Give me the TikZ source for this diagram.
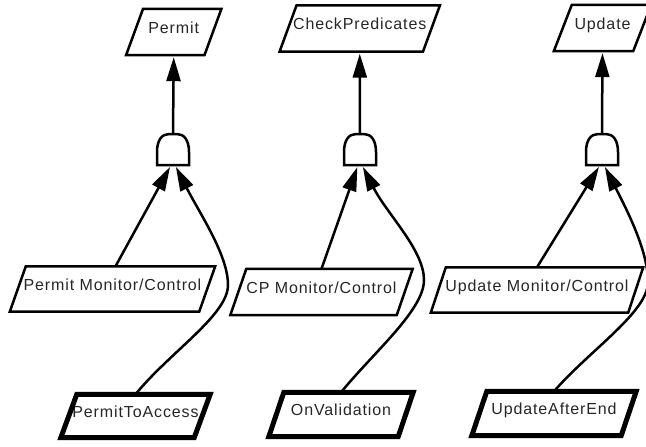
\documentclass[tikz,border=0pt]{standalone}
\usepackage{fontspec}
\setmainfont{Liberation Sans}[LetterSpace=5.5]
\usetikzlibrary{arrows.meta}

\begin{document}
\begin{tikzpicture}[
  x=1pt, y=-1pt,
  slbox/.style 2 args={minimum width=#1, minimum height=#2, inner sep=0pt,
    text height=11.5pt, text depth=9pt, text=black!85,
    font=\fontsize{16}{19}\selectfont},
  gatebox/.style={minimum width=32pt, minimum height=31pt, inner sep=0pt},
  outline/.style={line width=2.5pt, line join=miter},
  heavy/.style={line width=5pt, line join=miter},
  arr/.style={line width=2.5pt, -{Triangle[length=24pt,width=14pt]}, shorten >=2pt},
]
\useasboundingbox (0,0) rectangle (646,447);

% goal nodes
\node[slbox={78}{46}]  (permit) at (173.75,32)  {Permit};
\node[slbox={143}{46}] (cp)     at (359.75,28.5) {CheckPredicates};
\node[slbox={79}{46}]  (upd)    at (602.5,28)   {Update};

% monitor/control nodes
\node[slbox={189}{45}] (pmc)  at (112.5,289) {Permit Monitor/Control};
\node[slbox={166}{46}] (cpmc) at (321.5,292) {CP Monitor/Control};
\node[slbox={197}{45}] (umc)  at (537,290)   {Update Monitor/Control};

% event nodes
\node[slbox={133}{43}] (pta) at (135.5,416)   {PermitToAccess};
\node[slbox={129}{44}] (ov)  at (341,414.5)   {OnValidation};
\node[slbox={149}{44}] (uae) at (554,413.5)   {UpdateAfterEnd};

% and-gates
\node[gatebox] (g1) at (173,149.5) {};
\node[gatebox] (g2) at (360,149.5) {};
\node[gatebox] (g3) at (602,149.5) {};

% parallelogram outlines
\foreach \n/\s in {permit/8.5, cp/8.5, upd/9, pmc/8, cpmc/8, umc/7.5}
  \draw[outline] ([shift={(\s,0)}]\n.north west) -- ([shift={(\s,0)}]\n.north east)
     -- ([shift={(-\s,0)}]\n.south east) -- ([shift={(-\s,0)}]\n.south west) -- cycle;
\foreach \n/\s in {pta/8, ov/7.5, uae/7.5}
  \draw[heavy] ([shift={(\s,0)}]\n.north west) -- ([shift={(\s,0)}]\n.north east)
     -- ([shift={(-\s,0)}]\n.south east) -- ([shift={(-\s,0)}]\n.south west) -- cycle;

% gate outlines
\foreach \g in {g1,g2,g3}
  \draw[outline] ([shift={(-16,15.5)}]\g.center) -- ([shift={(-16,2.5)}]\g.center)
     .. controls ([shift={(-16,-9.5)}]\g.center) and ([shift={(-11,-15.5)}]\g.center)
     .. ([shift={(-4,-15.5)}]\g.center) -- ([shift={(4,-15.5)}]\g.center)
     .. controls ([shift={(11,-15.5)}]\g.center) and ([shift={(16,-9.5)}]\g.center)
     .. ([shift={(16,2.5)}]\g.center) -- ([shift={(16,15.5)}]\g.center) -- cycle;

% gate outputs
\draw[arr] (g1.north) -- (permit.south);
\draw[arr] (g2.north) -- (cp.south);
\draw[arr] (g3.north) -- (upd.south);

% monitor/control inputs
\draw[arr] ([shift={(3,0)}]pmc.north) -- ([shift={(-2,0)}]g1.south);
\draw[arr] (cpmc.north) -- ([shift={(-2,0)}]g2.south);
\draw[arr] (umc.north) -- ([shift={(-2,0)}]g3.south);

% event inputs
\draw[arr] (pta.north) .. controls (170,352) and (228,315) .. (228,285)
   .. controls (228,255) and (200,214) .. ([shift={(2,0)}]g1.south);
\draw[arr] (ov.north) .. controls (374,352) and (424,310) .. (424,280)
   .. controls (424,250) and (387,214) .. ([shift={(2,0)}]g2.south);
\draw[arr] (uae.north) .. controls (590,350) and (648,312) .. (648,282)
   .. controls (648,252) and (629,214) .. ([shift={(2,0)}]g3.south);
\end{tikzpicture}
\end{document}
